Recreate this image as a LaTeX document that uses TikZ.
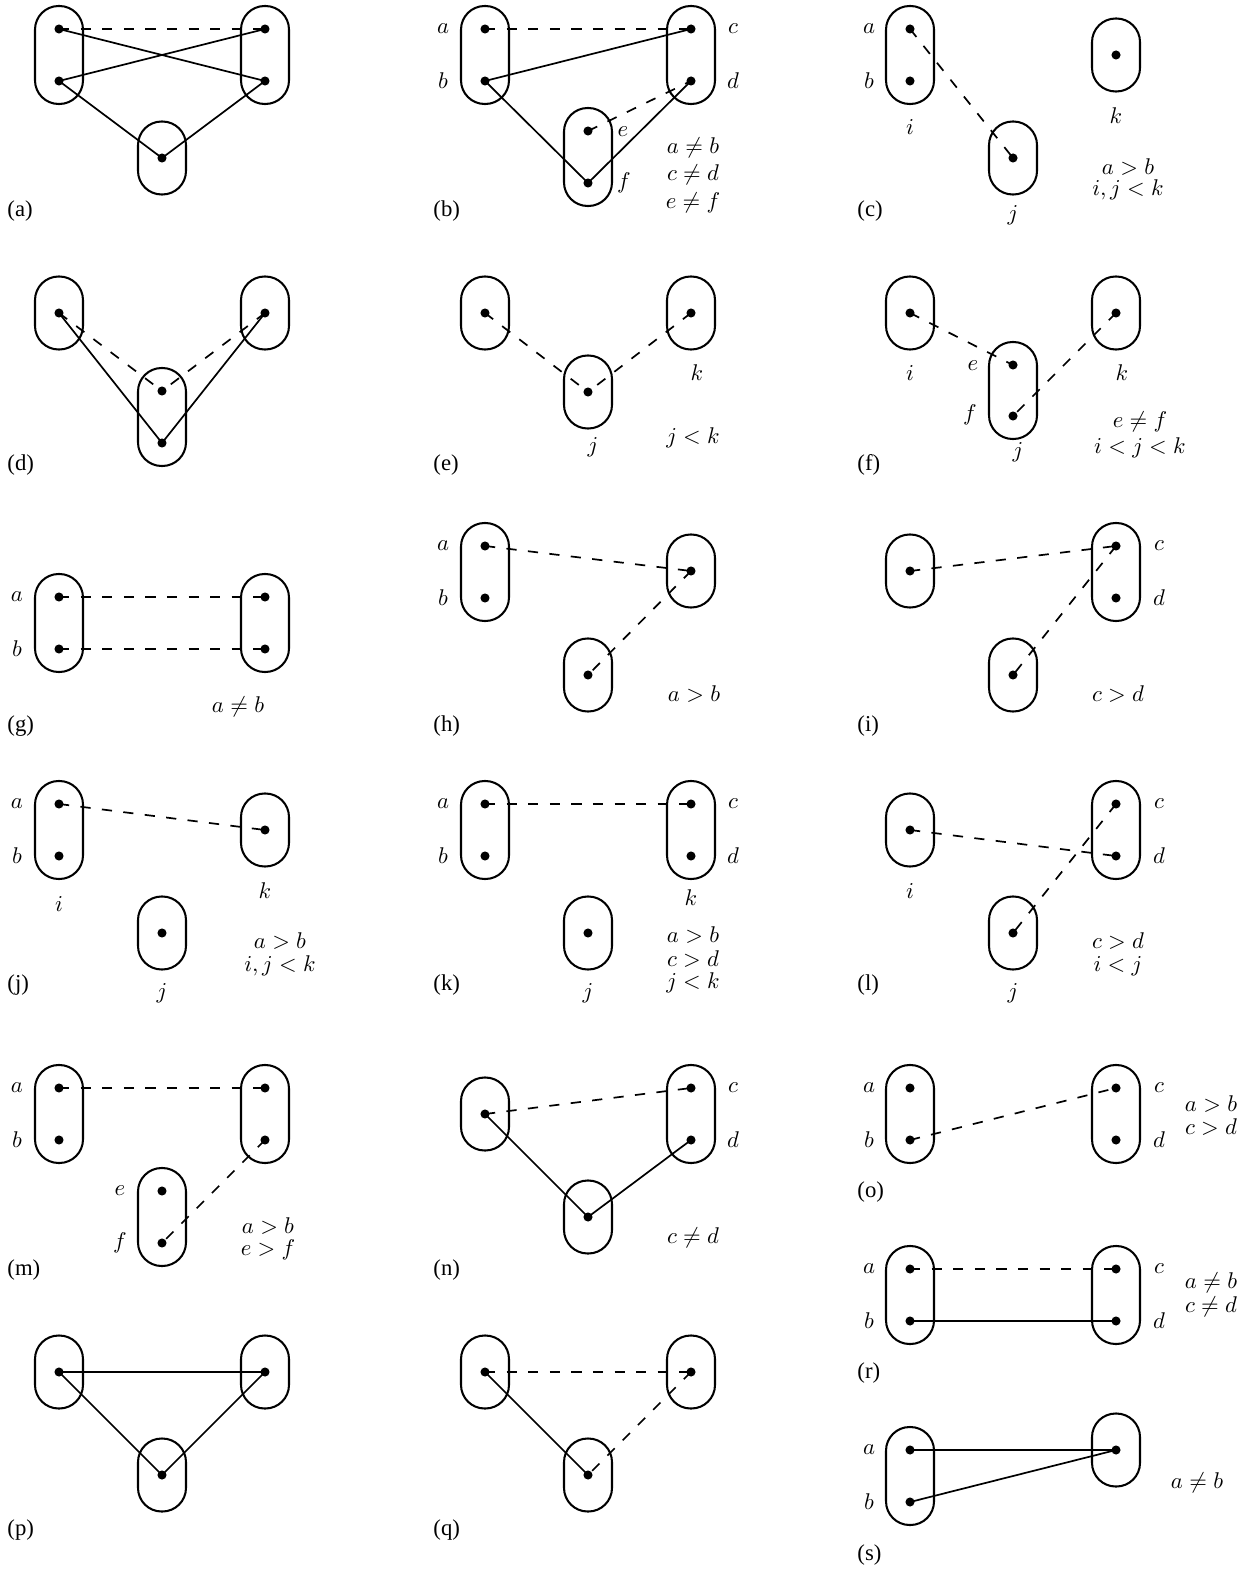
\documentclass[tikz,border=0pt]{standalone}
\usepackage{fontspec}
\setmainfont{Liberation Serif}

\begin{document}
\begin{tikzpicture}[x=0.44pt,y=-0.44pt,font=\normalsize,
  pill/.style={draw,line width=0.9pt,rounded corners=10.4pt},
  dot/.style={circle,fill=black,inner sep=0pt,minimum size=4pt},
  link/.style={line width=0.75pt},
  dashed-link/.style={line width=0.75pt,dash pattern=on 4.5pt off 5pt},
  panel/.style={anchor=west,inner sep=0pt},
  tag/.style={inner sep=0pt}]
\useasboundingbox (0,0) rectangle (1248,1569);
% (a)
\path[pill] (35,6) rectangle (83,104);
\path[pill] (241,6) rectangle (289,104);
\path[pill] (138,121.5) rectangle (186,194.5);
\node[dot] (dot-a-0) at (59,29) {};
\node[dot] (dot-a-1) at (59,81) {};
\node[dot] (dot-a-2) at (265,29) {};
\node[dot] (dot-a-3) at (265,81) {};
\node[dot] (dot-a-4) at (162,158) {};
\draw[dashed-link] (dot-a-0.center) -- (dot-a-2.center);
\draw[link] (dot-a-0.center) -- (dot-a-3.center);
\draw[link] (dot-a-1.center) -- (dot-a-2.center);
\draw[link] (dot-a-1.center) -- (dot-a-4.center);
\draw[link] (dot-a-3.center) -- (dot-a-4.center);
\node[panel] (panel-a) at (7,211) {(a)};
% (b)
\path[pill] (461,6) rectangle (509,104);
\path[pill] (667,6) rectangle (715,104);
\path[pill] (564,108) rectangle (612,206);
\node[dot] (dot-b-0) at (485,29) {};
\node[dot] (dot-b-1) at (485,81) {};
\node[dot] (dot-b-2) at (691,29) {};
\node[dot] (dot-b-3) at (691,81) {};
\node[dot] (dot-b-4) at (588,131) {};
\node[dot] (dot-b-5) at (588,183) {};
\draw[dashed-link] (dot-b-0.center) -- (dot-b-2.center);
\draw[link] (dot-b-1.center) -- (dot-b-2.center);
\draw[dashed-link] (dot-b-4.center) -- (dot-b-3.center);
\draw[link] (dot-b-1.center) -- (dot-b-5.center);
\draw[link] (dot-b-5.center) -- (dot-b-3.center);
\node[tag] (name-b-a) at (443,29) {$a$};
\node[tag] (name-b-b) at (443,81) {$b$};
\node[tag] (name-b-c) at (733,29) {$c$};
\node[tag] (name-b-d) at (733,81) {$d$};
\node[tag] (name-b-e) at (623,132) {$e$};
\node[tag] (name-b-f) at (624,183) {$f$};
\node[tag] (cond-b-0) at (693,148) {$a \neq b$};
\node[tag] (cond-b-1) at (693,175) {$c \neq d$};
\node[tag] (cond-b-2) at (693,203) {$e \neq f$};
\node[panel] (panel-b) at (433,211) {(b)};
% (c)
\path[pill] (886,6) rectangle (934,104);
\path[pill] (1092,18.5) rectangle (1140,91.5);
\path[pill] (989,121.5) rectangle (1037,194.5);
\node[dot] (dot-c-0) at (910,29) {};
\node[dot] (dot-c-1) at (910,81) {};
\node[dot] (dot-c-2) at (1116,55) {};
\node[dot] (dot-c-3) at (1013,158) {};
\draw[dashed-link] (dot-c-0.center) -- (dot-c-3.center);
\node[tag] (name-c-a) at (869,29) {$a$};
\node[tag] (name-c-b) at (869,81) {$b$};
\node[tag] (name-c-i) at (910,127) {$i$};
\node[tag] (name-c-k) at (1116,116) {$k$};
\node[tag] (name-c-j) at (1013,215) {$j$};
\node[tag] (cond-c-0) at (1128,167) {$a > b$};
\node[tag] (cond-c-1) at (1128,190) {$i, j < k$};
\node[panel] (panel-c) at (857,211) {(c)};
% (d)
\path[pill] (35,276.5) rectangle (83,349.5);
\path[pill] (241,276.5) rectangle (289,349.5);
\path[pill] (138,368) rectangle (186,466);
\node[dot] (dot-d-0) at (59,313) {};
\node[dot] (dot-d-1) at (265,313) {};
\node[dot] (dot-d-2) at (162,391) {};
\node[dot] (dot-d-3) at (162,443) {};
\draw[dashed-link] (dot-d-0.center) -- (dot-d-2.center);
\draw[dashed-link] (dot-d-1.center) -- (dot-d-2.center);
\draw[link] (dot-d-0.center) -- (dot-d-3.center);
\draw[link] (dot-d-1.center) -- (dot-d-3.center);
\node[panel] (panel-d) at (7,465) {(d)};
% (e)
\path[pill] (461,276.5) rectangle (509,349.5);
\path[pill] (667,276.5) rectangle (715,349.5);
\path[pill] (564,355.5) rectangle (612,428.5);
\node[dot] (dot-e-0) at (485,313) {};
\node[dot] (dot-e-1) at (691,313) {};
\node[dot] (dot-e-2) at (588,392) {};
\draw[dashed-link] (dot-e-0.center) -- (dot-e-2.center);
\draw[dashed-link] (dot-e-1.center) -- (dot-e-2.center);
\node[tag] (name-e-k) at (697,373) {$k$};
\node[tag] (name-e-j) at (593,447) {$j$};
\node[tag] (cond-e-0) at (693,438) {$j < k$};
\node[panel] (panel-e) at (433,465) {(e)};
% (f)
\path[pill] (886,276.5) rectangle (934,349.5);
\path[pill] (1092,276.5) rectangle (1140,349.5);
\path[pill] (989,342) rectangle (1037,439);
\node[dot] (dot-f-0) at (910,313) {};
\node[dot] (dot-f-1) at (1116,313) {};
\node[dot] (dot-f-2) at (1013,365) {};
\node[dot] (dot-f-3) at (1013,416) {};
\draw[dashed-link] (dot-f-0.center) -- (dot-f-2.center);
\draw[dashed-link] (dot-f-1.center) -- (dot-f-3.center);
\node[tag] (name-f-i) at (910,373) {$i$};
\node[tag] (name-f-k) at (1122,373) {$k$};
\node[tag] (name-f-e) at (973,366) {$e$};
\node[tag] (name-f-f) at (970,415) {$f$};
\node[tag] (name-f-j) at (1018,452) {$j$};
\node[tag] (cond-f-0) at (1140,422) {$e \neq f$};
\node[tag] (cond-f-1) at (1140,448) {$i < j < k$};
\node[panel] (panel-f) at (857,465) {(f)};
% (g)
\path[pill] (35,574) rectangle (83,672);
\path[pill] (241,574) rectangle (289,672);
\node[dot] (dot-g-0) at (59,597) {};
\node[dot] (dot-g-1) at (59,649) {};
\node[dot] (dot-g-2) at (265,597) {};
\node[dot] (dot-g-3) at (265,649) {};
\draw[dashed-link] (dot-g-0.center) -- (dot-g-2.center);
\draw[dashed-link] (dot-g-1.center) -- (dot-g-3.center);
\node[tag] (name-g-a) at (17,597) {$a$};
\node[tag] (name-g-b) at (17,649) {$b$};
\node[tag] (cond-g-0) at (238,707) {$a \neq b$};
\node[panel] (panel-g) at (7,726) {(g)};
% (h)
\path[pill] (461,523) rectangle (509,621);
\path[pill] (667,534.5) rectangle (715,607.5);
\path[pill] (564,638.5) rectangle (612,711.5);
\node[dot] (dot-h-0) at (485,546) {};
\node[dot] (dot-h-1) at (485,598) {};
\node[dot] (dot-h-2) at (691,571) {};
\node[dot] (dot-h-3) at (588,675) {};
\draw[dashed-link] (dot-h-0.center) -- (dot-h-2.center);
\draw[dashed-link] (dot-h-2.center) -- (dot-h-3.center);
\node[tag] (name-h-a) at (443,546) {$a$};
\node[tag] (name-h-b) at (443,598) {$b$};
\node[tag] (cond-h-0) at (694,694) {$a > b$};
\node[panel] (panel-h) at (433,726) {(h)};
% (i)
\path[pill] (886,534.5) rectangle (934,607.5);
\path[pill] (1092,523) rectangle (1140,621);
\path[pill] (989,638.5) rectangle (1037,711.5);
\node[dot] (dot-i-0) at (910,571) {};
\node[dot] (dot-i-1) at (1116,546) {};
\node[dot] (dot-i-2) at (1116,598) {};
\node[dot] (dot-i-3) at (1013,675) {};
\draw[dashed-link] (dot-i-0.center) -- (dot-i-1.center);
\draw[dashed-link] (dot-i-1.center) -- (dot-i-3.center);
\node[tag] (name-i-c) at (1159,546) {$c$};
\node[tag] (name-i-d) at (1159,598) {$d$};
\node[tag] (cond-i-0) at (1118,694) {$c > d$};
\node[panel] (panel-i) at (857,726) {(i)};
% (j)
\path[pill] (35,781) rectangle (83,879);
\path[pill] (241,793.5) rectangle (289,866.5);
\path[pill] (138,896.5) rectangle (186,969.5);
\node[dot] (dot-j-0) at (59,804) {};
\node[dot] (dot-j-1) at (59,856) {};
\node[dot] (dot-j-2) at (265,830) {};
\node[dot] (dot-j-3) at (162,933) {};
\draw[dashed-link] (dot-j-0.center) -- (dot-j-2.center);
\node[tag] (name-j-a) at (17,804) {$a$};
\node[tag] (name-j-b) at (17,856) {$b$};
\node[tag] (name-j-i) at (59,904) {$i$};
\node[tag] (name-j-k) at (265,891) {$k$};
\node[tag] (name-j-j) at (162,993) {$j$};
\node[tag] (cond-j-0) at (280,941) {$a > b$};
\node[tag] (cond-j-1) at (280,966) {$i, j < k$};
\node[panel] (panel-j) at (7,985) {(j)};
% (k)
\path[pill] (461,781) rectangle (509,879);
\path[pill] (667,781) rectangle (715,879);
\path[pill] (564,896.5) rectangle (612,969.5);
\node[dot] (dot-k-0) at (485,804) {};
\node[dot] (dot-k-1) at (485,856) {};
\node[dot] (dot-k-2) at (691,804) {};
\node[dot] (dot-k-3) at (691,856) {};
\node[dot] (dot-k-4) at (588,933) {};
\draw[dashed-link] (dot-k-0.center) -- (dot-k-2.center);
\node[tag] (name-k-a) at (443,804) {$a$};
\node[tag] (name-k-b) at (443,856) {$b$};
\node[tag] (name-k-c) at (733,804) {$c$};
\node[tag] (name-k-d) at (733,856) {$d$};
\node[tag] (name-k-k) at (691,898) {$k$};
\node[tag] (name-k-j) at (588,993) {$j$};
\node[tag] (cond-k-0) at (693,935) {$a > b$};
\node[tag] (cond-k-1) at (693,959) {$c > d$};
\node[tag] (cond-k-2) at (693,983) {$j < k$};
\node[panel] (panel-k) at (433,985) {(k)};
% (l)
\path[pill] (886,793.5) rectangle (934,866.5);
\path[pill] (1092,781) rectangle (1140,879);
\path[pill] (989,896.5) rectangle (1037,969.5);
\node[dot] (dot-l-0) at (910,830) {};
\node[dot] (dot-l-1) at (1116,804) {};
\node[dot] (dot-l-2) at (1116,856) {};
\node[dot] (dot-l-3) at (1013,933) {};
\draw[dashed-link] (dot-l-0.center) -- (dot-l-2.center);
\draw[dashed-link] (dot-l-1.center) -- (dot-l-3.center);
\node[tag] (name-l-i) at (910,891) {$i$};
\node[tag] (name-l-c) at (1159,804) {$c$};
\node[tag] (name-l-d) at (1159,856) {$d$};
\node[tag] (name-l-j) at (1013,993) {$j$};
\node[tag] (cond-l-0) at (1118,941) {$c > d$};
\node[tag] (cond-l-1) at (1118,966) {$i < j$};
\node[panel] (panel-l) at (857,985) {(l)};
% (m)
\path[pill] (35,1065) rectangle (83,1163);
\path[pill] (241,1065) rectangle (289,1163);
\path[pill] (138,1168) rectangle (186,1266);
\node[dot] (dot-m-0) at (59,1088) {};
\node[dot] (dot-m-1) at (59,1140) {};
\node[dot] (dot-m-2) at (265,1088) {};
\node[dot] (dot-m-3) at (265,1140) {};
\node[dot] (dot-m-4) at (162,1191) {};
\node[dot] (dot-m-5) at (162,1243) {};
\draw[dashed-link] (dot-m-0.center) -- (dot-m-2.center);
\draw[dashed-link] (dot-m-3.center) -- (dot-m-5.center);
\node[tag] (name-m-a) at (17,1088) {$a$};
\node[tag] (name-m-b) at (17,1140) {$b$};
\node[tag] (name-m-e) at (120,1191) {$e$};
\node[tag] (name-m-f) at (120,1243) {$f$};
\node[tag] (cond-m-0) at (268,1226) {$a > b$};
\node[tag] (cond-m-1) at (268,1250) {$e > f$};
\node[panel] (panel-m) at (7,1270) {(m)};
% (n)
\path[pill] (461,1077.5) rectangle (509,1150.5);
\path[pill] (667,1065) rectangle (715,1163);
\path[pill] (564,1180.5) rectangle (612,1253.5);
\node[dot] (dot-n-0) at (485,1114) {};
\node[dot] (dot-n-1) at (691,1088) {};
\node[dot] (dot-n-2) at (691,1140) {};
\node[dot] (dot-n-3) at (588,1217) {};
\draw[dashed-link] (dot-n-0.center) -- (dot-n-1.center);
\draw[link] (dot-n-0.center) -- (dot-n-3.center);
\draw[link] (dot-n-2.center) -- (dot-n-3.center);
\node[tag] (name-n-c) at (733,1088) {$c$};
\node[tag] (name-n-d) at (733,1140) {$d$};
\node[tag] (cond-n-0) at (693,1238) {$c \neq d$};
\node[panel] (panel-n) at (433,1270) {(n)};
% (o)
\path[pill] (886,1065) rectangle (934,1163);
\path[pill] (1092,1065) rectangle (1140,1163);
\node[dot] (dot-o-0) at (910,1088) {};
\node[dot] (dot-o-1) at (910,1140) {};
\node[dot] (dot-o-2) at (1116,1088) {};
\node[dot] (dot-o-3) at (1116,1140) {};
\draw[dashed-link] (dot-o-1.center) -- (dot-o-2.center);
\node[tag] (name-o-a) at (869,1088) {$a$};
\node[tag] (name-o-b) at (869,1140) {$b$};
\node[tag] (name-o-c) at (1159,1088) {$c$};
\node[tag] (name-o-d) at (1159,1140) {$d$};
\node[tag] (cond-o-0) at (1211,1104) {$a > b$};
\node[tag] (cond-o-1) at (1211,1127) {$c > d$};
\node[panel] (panel-o) at (857,1192) {(o)};
% (r)
\path[pill] (886,1246) rectangle (934,1344);
\path[pill] (1092,1246) rectangle (1140,1344);
\node[dot] (dot-r-0) at (910,1269) {};
\node[dot] (dot-r-1) at (910,1321) {};
\node[dot] (dot-r-2) at (1116,1269) {};
\node[dot] (dot-r-3) at (1116,1321) {};
\draw[dashed-link] (dot-r-0.center) -- (dot-r-2.center);
\draw[link] (dot-r-1.center) -- (dot-r-3.center);
\node[tag] (name-r-a) at (869,1269) {$a$};
\node[tag] (name-r-b) at (869,1321) {$b$};
\node[tag] (name-r-c) at (1159,1269) {$c$};
\node[tag] (name-r-d) at (1159,1321) {$d$};
\node[tag] (cond-r-0) at (1211,1283) {$a \neq b$};
\node[tag] (cond-r-1) at (1211,1307) {$c \neq d$};
\node[panel] (panel-r) at (857,1373) {(r)};
% (p)
\path[pill] (35,1335.5) rectangle (83,1408.5);
\path[pill] (241,1335.5) rectangle (289,1408.5);
\path[pill] (138,1438.5) rectangle (186,1511.5);
\node[dot] (dot-p-0) at (59,1372) {};
\node[dot] (dot-p-1) at (265,1372) {};
\node[dot] (dot-p-2) at (162,1475) {};
\draw[link] (dot-p-0.center) -- (dot-p-1.center);
\draw[link] (dot-p-0.center) -- (dot-p-2.center);
\draw[link] (dot-p-1.center) -- (dot-p-2.center);
\node[panel] (panel-p) at (7,1530) {(p)};
% (q)
\path[pill] (461,1335.5) rectangle (509,1408.5);
\path[pill] (667,1335.5) rectangle (715,1408.5);
\path[pill] (564,1438.5) rectangle (612,1511.5);
\node[dot] (dot-q-0) at (485,1372) {};
\node[dot] (dot-q-1) at (691,1372) {};
\node[dot] (dot-q-2) at (588,1475) {};
\draw[dashed-link] (dot-q-0.center) -- (dot-q-1.center);
\draw[link] (dot-q-0.center) -- (dot-q-2.center);
\draw[dashed-link] (dot-q-1.center) -- (dot-q-2.center);
\node[panel] (panel-q) at (433,1530) {(q)};
% (s)
\path[pill] (886,1427) rectangle (934,1525);
\path[pill] (1092,1413.5) rectangle (1140,1486.5);
\node[dot] (dot-s-0) at (910,1450) {};
\node[dot] (dot-s-1) at (910,1502) {};
\node[dot] (dot-s-2) at (1116,1450) {};
\draw[link] (dot-s-0.center) -- (dot-s-2.center);
\draw[link] (dot-s-1.center) -- (dot-s-2.center);
\node[tag] (name-s-a) at (869,1450) {$a$};
\node[tag] (name-s-b) at (869,1502) {$b$};
\node[tag] (cond-s-0) at (1197,1483) {$a \neq b$};
\node[panel] (panel-s) at (857,1555) {(s)};
\end{tikzpicture}
\end{document}
